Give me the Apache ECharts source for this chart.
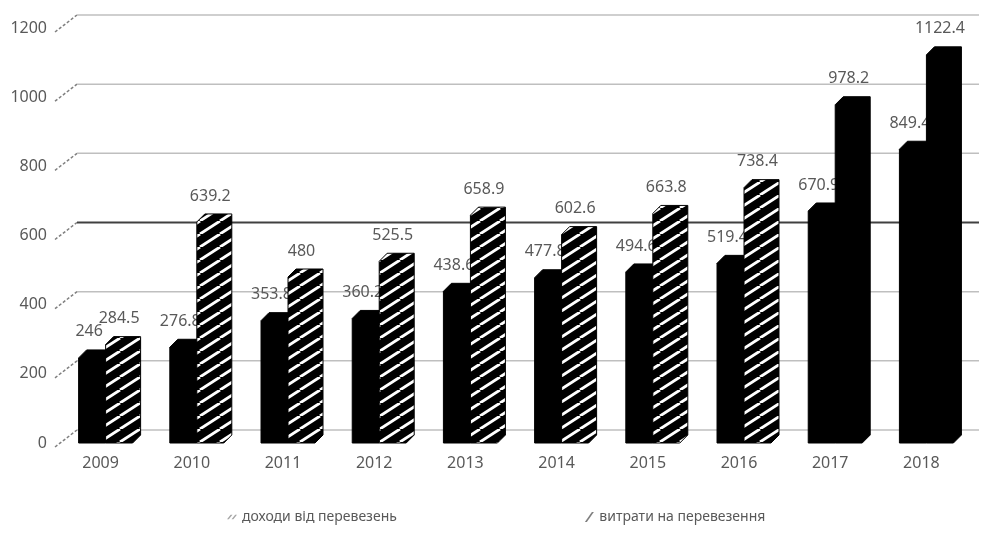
<!DOCTYPE html>
<html>
<head>
<meta charset="utf-8">
<script src="https://cdn.jsdelivr.net/npm/echarts@6/dist/echarts.min.js"></script>
<style>
  html, body { margin: 0; padding: 0; background: #fff; }
  #chart { width: 983px; height: 544px; }
</style>
</head>
<body>
<div id="chart"></div>
<script>
// дані з діаграми
var years = ['2009', '2010', '2011', '2012', '2013', '2014', '2015', '2016', '2017', '2018'];
var incomes = [246, 276.8, 353.8, 360.2, 438.6, 477.8, 494.6, 519.4, 670.9, 849.4];
var costs = [284.5, 639.2, 480, 525.5, 658.9, 602.6, 663.8, 738.4, 978.2, 1122.4];
var yTicks = [0, 200, 400, 600, 800, 1000, 1200];

var FONT = '"Noto Sans", "DejaVu Sans", sans-serif';
var TEXT = '#595959';
var DEPTH = 8;      // глибина "3D" стовпчика
var BAR_W = 0.296;  // ширина стовпчика, частка від ширини категорії

// штрихування для витрат
function makeHatch() {
  var w = 20, h = 13;
  var c = document.createElement('canvas');
  c.width = w; c.height = h;
  var ctx = c.getContext('2d');
  ctx.fillStyle = '#000';
  ctx.fillRect(0, 0, w, h);
  ctx.strokeStyle = '#fff';
  ctx.lineWidth = 2.8;
  for (var k = -1; k <= 1; k++) {
    ctx.beginPath();
    ctx.moveTo(k * w, h);
    ctx.lineTo(k * w + w, 0);
    ctx.stroke();
  }
  return c;
}
var hatch = { image: makeHatch(), repeat: 'repeat' };

function barRender(offset, hatched, labelShift) {
  return function (params, api) {
    var idx = api.value(0);
    var v = api.value(1);
    var base = api.coord([idx, 0]);
    var top = api.coord([idx, v]);
    var band = api.size([1, 0])[0];
    var x0 = base[0] + offset * band;
    var x1 = x0 + BAR_W * band;
    var yB = base[1], yT = top[1];
    var pts = [
      [x0, yB], [x0, yT], [x0 + DEPTH, yT - DEPTH], [x1 + DEPTH, yT - DEPTH],
      [x1 + DEPTH, yB - DEPTH], [x1, yB]
    ];
    // 2017-2018 без штрихування
    var fill = (hatched && idx < 8) ? hatch : '#000';
    return {
      type: 'group',
      children: [
        {
          type: 'polygon',
          shape: { points: pts },
          style: { fill: fill, stroke: '#000', lineWidth: 1 }
        },
        {
          type: 'text',
          x: (x0 + x1) / 2 + labelShift,
          y: yT - 26,
          style: {
            text: String(v),
            fill: TEXT,
            font: '16px ' + FONT,
            textAlign: 'center',
            textVerticalAlign: 'middle'
          }
        }
      ]
    };
  };
}

function gridRender(params, api) {
  var v = api.value(1);
  var cs = params.coordSys;
  var y = api.coord([0, v])[1];
  var gx = cs.x;
  var dark = v === 600;
  return {
    type: 'group',
    children: [
      {
        type: 'line',
        shape: { x1: gx, y1: y + 4, x2: gx + 22, y2: y - 13 },
        style: { stroke: '#7f7f7f', lineWidth: 1.5, lineDash: [3, 2] }
      },
      {
        type: 'line',
        shape: { x1: gx + 22, y1: y - 13, x2: cs.x + cs.width + 12, y2: y - 13 },
        style: { stroke: dark ? '#404040' : '#bfbfbf', lineWidth: dark ? 2.2 : 1.5 }
      }
    ]
  };
}

var chart = echarts.init(document.getElementById('chart'));
var option = {
  backgroundColor: '#fff',
  animation: false,
  grid: { left: 55, right: 16, top: 28, bottom: 101 },
  legend: {
    left: 222,
    top: 505,
    itemGap: 188,
    itemWidth: 10,
    itemHeight: 10,
    textStyle: { color: TEXT, fontSize: 14, fontFamily: FONT },
    data: [
      {
        name: 'доходи від перевезень',
        icon: 'path://M0,10L2,10L6,5L4,5Z M5,10L7,10L11,5L9,5Z',
        itemStyle: { color: '#a6a6a6' }
      },
      {
        name: 'витрати на перевезення',
        icon: 'path://M0,10L2,10L9,0L7,0Z',
        itemStyle: { color: '#7f7f7f' }
      }
    ]
  },
  xAxis: {
    type: 'category',
    data: years,
    axisLine: { show: false },
    axisTick: { show: false },
    axisLabel: { color: TEXT, fontSize: 16, fontFamily: FONT, margin: 12 }
  },
  yAxis: {
    type: 'value',
    min: 0,
    max: 1200,
    interval: 200,
    axisLine: { show: false },
    axisTick: { show: false },
    splitLine: { show: false },
    axisLabel: {
      color: TEXT, fontSize: 16, fontFamily: FONT, margin: 8,
      formatter: function (v) { return String(v); }
    }
  },
  series: [
    {
      name: 'grid',
      type: 'custom',
      silent: true,
      z: 1,
      renderItem: gridRender,
      data: yTicks.map(function (v) { return [0, v]; })
    },
    {
      name: 'доходи від перевезень',
      type: 'custom',
      z: 2,
      renderItem: barRender(-0.241, false, -3),
      data: years.map(function (y, i) { return [i, incomes[i]]; })
    },
    {
      name: 'витрати на перевезення',
      type: 'custom',
      z: 3,
      renderItem: barRender(0.055, true, 0),
      data: years.map(function (y, i) { return [i, costs[i]]; })
    }
  ]
};
chart.setOption(option);
</script>
</body>
</html>
